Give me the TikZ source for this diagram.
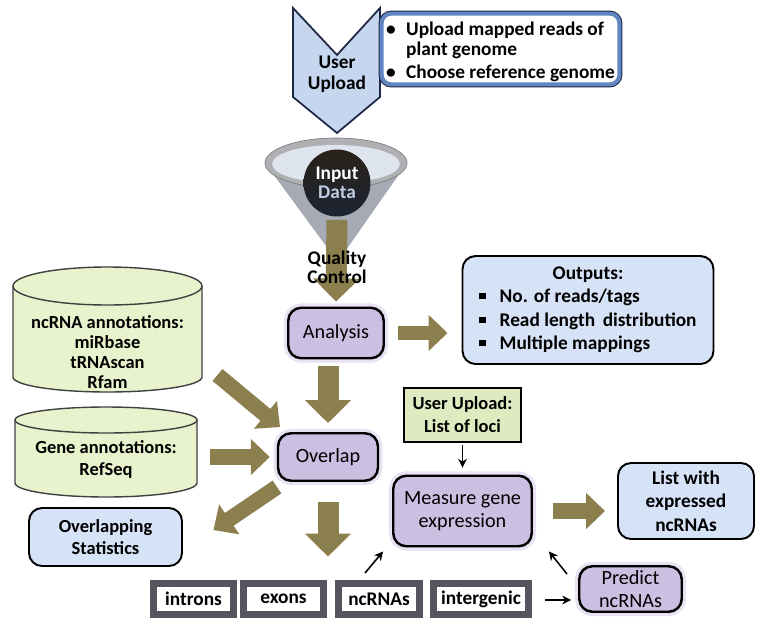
\documentclass[tikz,border=0pt]{standalone}
\usepackage{fontspec}
\setmainfont{Carlito}
\usetikzlibrary{calc}
\usetikzlibrary{arrows.meta}
\definecolor{olivearrow}{RGB}{140,127,78}
\definecolor{lavender}{RGB}{204,192,226}
\definecolor{paleblue}{RGB}{214,227,247}
\definecolor{palegreen}{RGB}{232,242,204}
\definecolor{locigreen}{RGB}{222,234,192}
\definecolor{chevblue}{RGB}{197,214,238}
\definecolor{uplblue}{RGB}{95,134,192}
\definecolor{navy}{RGB}{30,40,70}
\definecolor{boxgray}{RGB}{85,85,95}
\definecolor{funnelgray}{RGB}{165,170,180}
\definecolor{funnelrim}{RGB}{175,175,180}
\definecolor{funnelin}{RGB}{222,229,239}
\definecolor{datagray}{RGB}{190,205,225}
\begin{document}
\begin{tikzpicture}[x=0.02cm,y=-0.02cm,
    fatarrow/.style={draw=olivearrow,line width=0.42cm,-{Triangle[width=0.9cm,length=0.46cm]}},
    midarrow/.style={draw=olivearrow,line width=0.31cm,-{Triangle[width=0.7cm,length=0.38cm]}},
    thinarrow/.style={line width=0.9pt,-{Stealth[length=5pt,width=5pt]}},
    stepbox/.style={draw=black,line width=1.4pt,fill=lavender,rounded corners=0.26cm,inner sep=0pt,align=center,font=\fontsize{11.5}{13}\selectfont,preaction={draw=lavender!45,line width=5pt}},
    infobox/.style={draw=black,line width=1.1pt,fill=paleblue,rounded corners=0.26cm,inner sep=0pt,align=center,font=\bfseries\fontsize{11}{13.3}\selectfont},
    regionbox/.style={draw=boxgray,line width=0.14cm,fill=white,inner sep=0pt,minimum height=0.62cm,font=\bfseries\fontsize{11}{12}\selectfont},
    dbfill/.style={draw=black!75,line width=0.8pt,fill=palegreen},
    dbtext/.style={align=center,font=\bfseries\fontsize{10.5}{11.4}\selectfont}]
    \useasboundingbox[fill=white] (0,0) rectangle (767,629);
    % upload
    \draw[fill=chevblue,draw=navy,line width=1pt] (293,8) -- (337,55) -- (380,8) -- (380,97) -- (337,133) -- (293,97) -- cycle;
    \node[font=\bfseries\fontsize{11}{12}\selectfont,align=center] (user) at (337,74) {User\\Upload};
    \node[draw=uplblue,line width=0.08cm,rounded corners=0.2cm,fill=white,minimum width=4.76cm,minimum height=1.42cm,inner sep=0pt,preaction={draw=navy,line width=0.12cm},font=\bfseries\fontsize{11}{11}\selectfont] (upinfo) at (500.5,49)
        {\raisebox{-2.5pt}[\height][\depth]{\begin{tabular}{@{}l@{\hspace{6pt}}l@{}}\textbullet & Upload mapped reads of\\ & plant genome\\[2.5pt] \textbullet & Choose reference genome\end{tabular}}};
    % funnel
    \fill[funnelgray] (265,163) -- (329,250) -- (346,250) -- (407,163) -- cycle;
    \draw[fill=funnelrim,draw=gray] (336,163) ellipse (71 and 25);
    \fill[funnelin] (336,164) ellipse (64 and 19);
    \node[circle,minimum size=1.34cm,inner sep=0pt,top color={rgb,255:red,42;green,34;blue,24},bottom color={rgb,255:red,28;green,36;blue,52},text=white,align=center,font=\bfseries\fontsize{11}{11}\selectfont] (input) at (337,183) {Input\\\textcolor{datagray}{Data}};
    % databases
    \draw[dbfill] (13,286) -- (13,377) arc[start angle=180,end angle=0,x radius=94.5,y radius=15] -- (202,286);
    \draw[dbfill] (107.5,286) ellipse (94.5 and 19);
    \node[dbtext] (ncdb) at (107.5,352) {ncRNA annotations:\\miRbase\\tRNAscan\\Rfam};
    \draw[dbfill] (15,420) -- (15,483) arc[start angle=180,end angle=0,x radius=91,y radius=14] -- (197,420);
    \draw[dbfill] (106,420) ellipse (91 and 13);
    \node[dbtext,font=\bfseries\fontsize{10.5}{12.5}\selectfont] (genedb) at (106,459) {Gene annotations:\\RefSeq};
    % steps
    \node[stepbox,minimum width=1.91cm,minimum height=1.01cm] (analysis) at (336,333) {Analysis};
    \node[stepbox,minimum width=2.0cm,minimum height=0.95cm] (overlap) at (328,457) {Overlap};
    \node[stepbox,minimum width=2.77cm,minimum height=1.41cm] (measure) at (462.5,511) {Measure gene\\expression};
    \node[stepbox,minimum width=2.05cm,minimum height=0.91cm] (predict) at (630.5,589) {Predict\\ncRNAs};
    \node[infobox,minimum width=5.02cm,minimum height=2.16cm] (outputs) at (588,310)
        {\begin{tabular}{@{}c@{}}Outputs:\\ \begin{tabular}{@{}l@{\hspace{8pt}}l@{}}\rule[2pt]{3.5pt}{3.5pt} & No. of reads/tags\\ \rule[2pt]{3.5pt}{3.5pt} & Read length\, distribution\\ \rule[2pt]{3.5pt}{3.5pt} & Multiple mappings\end{tabular}\end{tabular}};
    \node[infobox,minimum width=2.72cm,minimum height=1.52cm] (listexp) at (686,501) {List with\\expressed\\ncRNAs};
    \node[infobox,minimum width=3.06cm,minimum height=1.16cm,font=\bfseries\fontsize{10.5}{12.5}\selectfont] (stats) at (105.5,537) {Overlapping\\Statistics};
    \node[draw=black,line width=1.2pt,fill=locigreen,minimum width=2.34cm,minimum height=1.08cm,inner sep=0pt,align=center,font=\bfseries\fontsize{10.5}{13}\selectfont] (loci) at (462.5,415) {User Upload:\\List of loci};
    \node[regionbox,minimum width=1.6cm] (introns) at (193.5,599) {introns};
    \node[regionbox,minimum width=1.6cm] (exons) at (283.5,599) {exons};
    \node[regionbox,minimum width=1.62cm] (ncrnas) at (379,599) {ncRNAs};
    \node[regionbox,minimum width=1.9cm] (intergenic) at (481,599) {intergenic};
    % olive arrows
    \draw[fatarrow,shorten <=0.06cm,shorten >=0.1cm] (input.south) -- (analysis.north);
    \node[font=\bfseries\fontsize{11}{11}\selectfont,align=center] (qc) at (337,267) {Quality\\Control};
    \draw[midarrow,line width=0.28cm,shorten <=0.26cm,shorten >=0.28cm] (analysis.east) -- (outputs.west |- analysis.east);
    \draw[fatarrow,shorten <=0.14cm,shorten >=0.18cm] (analysis.south -| overlap.north) -- (overlap.north);
    \draw[midarrow] ($(ncdb.center)+(110,23)$) -- ($(overlap.center)+(-48,-30)$);
    \draw[midarrow,shorten >=0.14cm] ($(genedb.center)+(104,-2)$) -- (overlap.west);
    \draw[midarrow] ($(overlap.center)+(-51,30)$) -- ($(stats.center)+(108,-7)$);
    \draw[fatarrow,shorten <=0.4cm,shorten >=0.47cm] (overlap.south) -- (overlap.south |- exons.north);
    \draw[midarrow,shorten <=0.4cm,shorten >=0.24cm] (measure.east) -- (listexp.west |- measure.east);
    % thin arrows
    \draw[thinarrow,shorten <=0.04cm,shorten >=0.14cm] (loci.south) -- (measure.north);
    \draw[thinarrow] ($(ncrnas.north)+(-14,-7)$) -- ($(measure.south west)+(-9,4)$);
    \draw[thinarrow] ($(predict.north west)+(-11,9)$) -- ($(measure.south east)+(16,4)$);
    \draw[thinarrow] ($(intergenic.east)+(13,1)$) -- ($(predict.west)+(-7,11)$);
\end{tikzpicture}
\end{document}
